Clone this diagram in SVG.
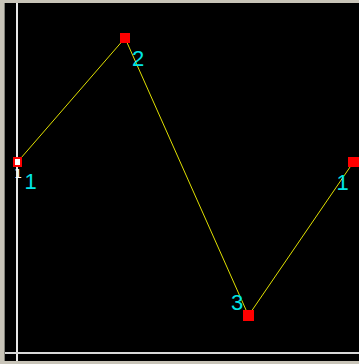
<svg xmlns="http://www.w3.org/2000/svg" width="359" height="364" viewBox="0 0 359 364">
<style>
.pt{fill:#ff0000}
.lbl{fill:#00e5e5;font-family:"Liberation Sans",Arial,sans-serif;font-size:22px}
</style>
<rect x="0" y="0" width="359" height="364" fill="#000"/>
<rect x="0" y="0" width="359" height="3" fill="#c8c4b8"/>
<rect x="0" y="0" width="4" height="364" fill="#c8c4b8"/>
<rect x="4" y="3" width="1" height="361" fill="#808078"/>
<rect x="0" y="361" width="359" height="3" fill="#c8c4b8"/>
<g id="axes">
<rect x="16" y="3" width="2" height="358" fill="#e8e8e8"/>
<rect x="5" y="352" width="354" height="2" fill="#d8d8d8"/>
</g>
<g id="connectors" stroke="#e0e000" stroke-width="1" fill="none">
<polyline points="17.5,162 125,38 248.5,315.5 353.5,162"/>
</g>
<g id="p1">
<rect class="pt" x="13" y="157" width="9" height="10"/>
<rect x="15" y="159" width="5" height="6" fill="#fff"/>
<text x="14" y="178" fill="#fff" font-family="DejaVu Sans,sans-serif" font-size="13">1</text>
<text class="lbl" x="24.5" y="189">1</text>
</g>
<g id="p2">
<rect class="pt" x="120" y="33" width="10" height="10"/>
<text class="lbl" x="132" y="66">2</text>
</g>
<g id="p3">
<rect class="pt" x="243" y="310" width="11" height="11"/>
<text class="lbl" x="231" y="310">3</text>
</g>
<g id="p4">
<rect class="pt" x="348" y="157" width="11" height="10"/>
<text class="lbl" x="336.5" y="190">1</text>
</g>
</svg>
